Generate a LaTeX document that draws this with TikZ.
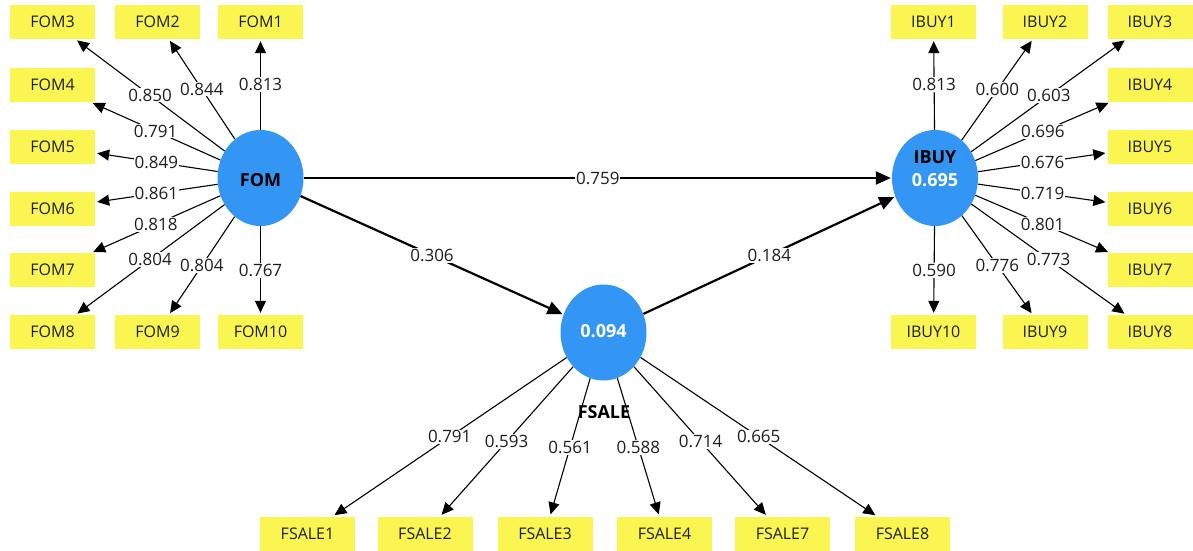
\documentclass[tikz,border=0pt]{standalone}
\usepackage{fontspec}
\setmainfont{Open Sans}
\usetikzlibrary{arrows.meta,shapes.geometric}
\definecolor{lvblue}{RGB}{51,150,245}
\definecolor{indyel}{RGB}{250,245,80}
\definecolor{txt}{RGB}{30,30,30}
\begin{document}
\begin{tikzpicture}[x=1pt,y=-1pt,
  box/.style={rectangle,fill=indyel,minimum width=85pt,minimum height=34pt,inner sep=0pt,font=\fontsize{16}{16}\selectfont,text=txt},
  fbox/.style={box,minimum width=95pt},
  lv/.style={ellipse,fill=lvblue,minimum width=86pt,minimum height=96pt,inner sep=0pt},
  ind/.style={draw=black,line width=1.1pt,-{Triangle[length=12pt,width=11pt]},shorten >=2pt},
  strc/.style={draw=black,line width=2.2pt,-{Triangle[length=15pt,width=13pt]},shorten >=1pt},
  lbl/.style={fill=white,inner sep=1pt,font=\fontsize{17}{17}\selectfont,text=txt},
  lvtxt/.style={font=\bfseries\fontsize{18}{18}\selectfont,inner sep=0pt}]
\useasboundingbox (0,0) rectangle (1193,551);
% latent variables
\node[lv] (fom) at (260.5,178) {};
\node[lv] (ibuy) at (935,178) {};
\node[lv] (fsale) at (603.5,332.5) {};
% FOM indicators
\node[box] (fom1) at (260.5,22) {FOM1};
\node[box] (fom2) at (157.5,22) {FOM2};
\node[box] (fom3) at (52.5,22) {FOM3};
\node[box] (fom4) at (52.5,85) {FOM4};
\node[box] (fom5) at (52.5,146.5) {FOM5};
\node[box] (fom6) at (52.5,208.5) {FOM6};
\node[box] (fom7) at (52.5,270) {FOM7};
\node[box] (fom8) at (52.5,332) {FOM8};
\node[box] (fom9) at (157.5,332) {FOM9};
\node[box] (fom10) at (260.5,332) {FOM10};
% IBUY indicators
\node[box] (ibuy1) at (933.5,22) {IBUY1};
\node[box] (ibuy2) at (1045,22) {IBUY2};
\node[box] (ibuy3) at (1150,22) {IBUY3};
\node[box] (ibuy4) at (1150,85) {IBUY4};
\node[box] (ibuy5) at (1150,146.5) {IBUY5};
\node[box] (ibuy6) at (1150,208.5) {IBUY6};
\node[box] (ibuy7) at (1150,270) {IBUY7};
\node[box] (ibuy8) at (1150,332) {IBUY8};
\node[box] (ibuy9) at (1045,332) {IBUY9};
\node[box] (ibuy10) at (933.5,332) {IBUY10};
% FSALE indicators
\node[fbox] (fsale1) at (307.5,533.5) {FSALE1};
\node[fbox] (fsale2) at (425,533.5) {FSALE2};
\node[fbox] (fsale3) at (545,533.5) {FSALE3};
\node[fbox] (fsale4) at (664.5,533.5) {FSALE4};
\node[fbox] (fsale7) at (782.5,533.5) {FSALE7};
\node[fbox] (fsale8) at (902.5,533.5) {FSALE8};
% FOM loadings
\draw[ind] (fom) -- (fom1) node[lbl,midway] {0.813};
\draw[ind] (fom) -- (fom2) node[lbl,midway] {0.844};
\draw[ind] (fom) -- (fom3) node[lbl,midway] {0.850};
\draw[ind] (fom) -- (fom4) node[lbl,midway] {0.791};
\draw[ind] (fom) -- (fom5) node[lbl,midway] {0.849};
\draw[ind] (fom) -- (fom6) node[lbl,midway] {0.861};
\draw[ind] (fom) -- (fom7) node[lbl,midway] {0.818};
\draw[ind] (fom) -- (fom8) node[lbl,midway] {0.804};
\draw[ind] (fom) -- (fom9) node[lbl,midway] {0.804};
\draw[ind] (fom) -- (fom10) node[lbl,midway] {0.767};
% IBUY loadings
\draw[ind] (ibuy) -- (ibuy1) node[lbl,midway] {0.813};
\draw[ind] (ibuy) -- (ibuy2) node[lbl,midway] {0.600};
\draw[ind] (ibuy) -- (ibuy3) node[lbl,midway] {0.603};
\draw[ind] (ibuy) -- (ibuy4) node[lbl,midway] {0.696};
\draw[ind] (ibuy) -- (ibuy5) node[lbl,midway] {0.676};
\draw[ind] (ibuy) -- (ibuy6) node[lbl,midway] {0.719};
\draw[ind] (ibuy) -- (ibuy7) node[lbl,midway] {0.801};
\draw[ind] (ibuy) -- (ibuy8) node[lbl,midway] {0.773};
\draw[ind] (ibuy) -- (ibuy9) node[lbl,midway] {0.776};
\draw[ind] (ibuy) -- (ibuy10) node[lbl,midway] {0.590};
% FSALE loadings
\draw[ind] (fsale) -- (fsale1) node[lbl,midway] {0.791};
\draw[ind] (fsale) -- (fsale2) node[lbl,midway] {0.593};
\draw[ind] (fsale) -- (fsale3) node[lbl,midway] {0.561};
\draw[ind] (fsale) -- (fsale4) node[lbl,midway] {0.588};
\draw[ind] (fsale) -- (fsale7) node[lbl,midway] {0.714};
\draw[ind] (fsale) -- (fsale8) node[lbl,midway] {0.665};
% structural paths
\draw[strc] (fom) -- (ibuy) node[lbl,midway] {0.759};
\draw[strc] (fom) -- (fsale) node[lbl,midway] {0.306};
\draw[strc] (fsale) -- (ibuy) node[lbl,midway] {0.184};
% latent variable texts
\node[lvtxt] (fomname) at (260.5,180) {FOM};
\node[lvtxt] (ibuyname) at (935,157) {IBUY};
\node[lvtxt,text=white] (ibuyr2) at (935,180) {0.695};
\node[lvtxt,text=white] (fsaler2) at (603.5,331) {0.094};
\node[lvtxt] (fsalename) at (604,412) {FSALE};
\end{tikzpicture}
\end{document}
